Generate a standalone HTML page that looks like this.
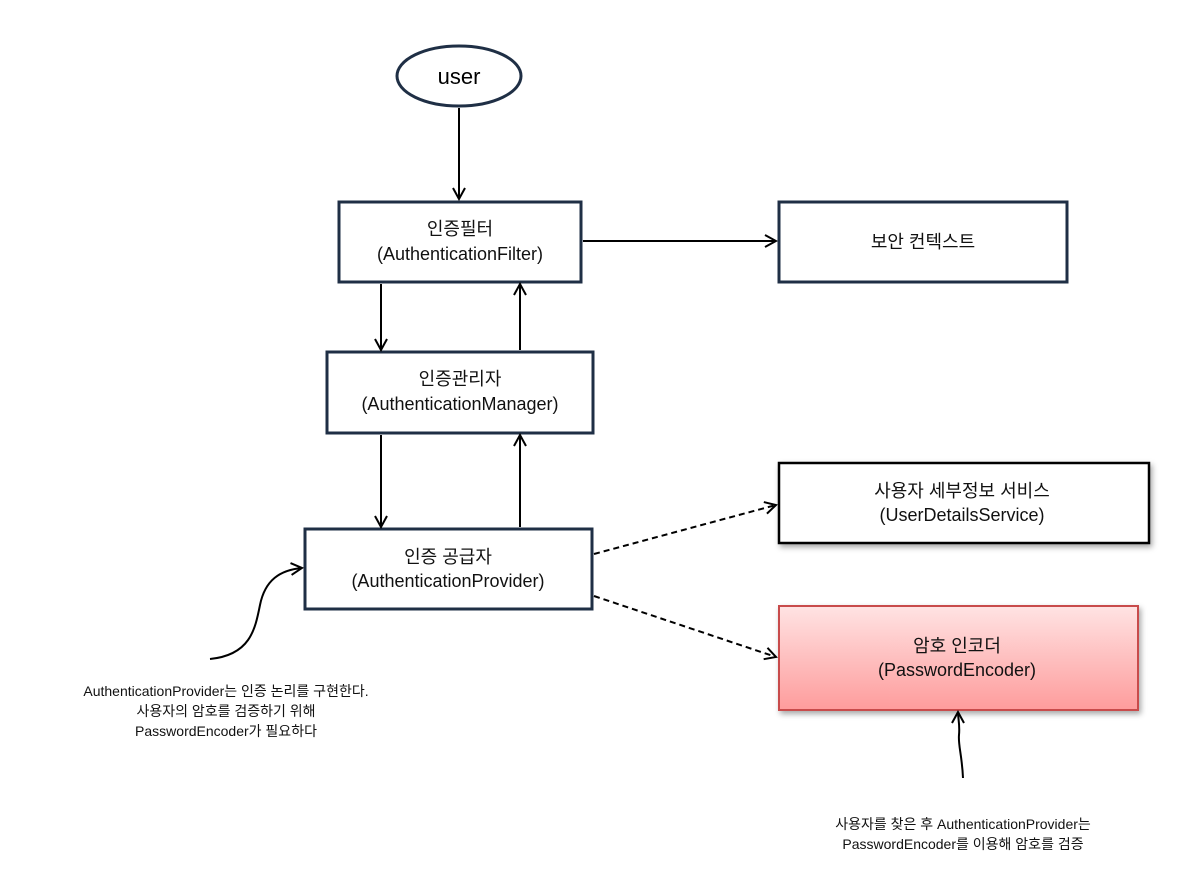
<!DOCTYPE html>
<html><head><meta charset="utf-8"><style>
body{margin:0;background:#fff;width:1195px;height:873px;overflow:hidden;}
svg text{font-family:"Liberation Sans","Noto Sans CJK KR",sans-serif;}
</style></head><body>
<svg width="1195" height="873" viewBox="0 0 1195 873" xmlns="http://www.w3.org/2000/svg">
<defs>
<marker id="a" markerWidth="14" markerHeight="14" refX="12" refY="7" orient="auto" markerUnits="userSpaceOnUse">
<path d="M1,1 L12,7 L1,13" fill="none" stroke="#000" stroke-width="2"/></marker>
<linearGradient id="g" x1="0" y1="0" x2="0" y2="1"><stop offset="0" stop-color="#ffe3e3"/><stop offset="1" stop-color="#fe9c9c"/></linearGradient>
<filter id="s" x="-10%" y="-10%" width="130%" height="140%"><feDropShadow dx="2" dy="3" stdDeviation="3" flood-opacity="0.35"/></filter>
</defs>
<ellipse cx="459" cy="76" rx="62" ry="30" fill="#fff" stroke="#1f2f45" stroke-width="3"/>
<text x="459" y="84" font-size="22" text-anchor="middle">user</text>
<g stroke="#1f2f45" stroke-width="3" fill="#fff">
<rect x="339" y="202" width="242" height="80"/>
<rect x="779" y="202" width="288" height="80"/>
<rect x="327" y="352" width="266" height="81"/>
<rect x="305" y="529" width="287" height="80"/>
</g>
<rect x="779" y="463" width="370" height="80" fill="#fff" stroke="#000" stroke-width="2.5" filter="url(#s)"/>
<rect x="779" y="606" width="359" height="104" fill="url(#g)" stroke="#c84b4b" stroke-width="2" filter="url(#s)"/>
<g font-size="18" text-anchor="middle" fill="#111">
<text x="460" y="235">인증필터</text><text x="460" y="260">(AuthenticationFilter)</text>
<text x="923" y="248">보안 컨텍스트</text>
<text x="460" y="385">인증관리자</text><text x="460" y="410">(AuthenticationManager)</text>
<text x="448" y="563">인증 공급자</text><text x="448" y="587">(AuthenticationProvider)</text>
<text x="962" y="497">사용자 세부정보 서비스</text><text x="962" y="521">(UserDetailsService)</text>
<text x="957" y="652">암호 인코더</text><text x="957" y="676">(PasswordEncoder)</text>
</g>
<g stroke="#000" stroke-width="2" fill="none">
<line x1="459" y1="108" x2="459" y2="199" marker-end="url(#a)"/>
<line x1="583" y1="241" x2="776" y2="241" marker-end="url(#a)"/>
<line x1="381" y1="284" x2="381" y2="350" marker-end="url(#a)"/>
<line x1="520" y1="350" x2="520" y2="284" marker-end="url(#a)"/>
<line x1="381" y1="435" x2="381" y2="527" marker-end="url(#a)"/>
<line x1="520" y1="527" x2="520" y2="435" marker-end="url(#a)"/>
<line x1="594" y1="554" x2="776" y2="505" stroke-dasharray="6,4" marker-end="url(#a)"/>
<line x1="594" y1="596" x2="776" y2="657" stroke-dasharray="6,4" marker-end="url(#a)"/>
<path d="M210,659 C250,655 255,630 260,605 C265,580 280,570 302,568" marker-end="url(#a)"/>
<path d="M963,778 C962,755 958,745 959,735 C960,725 958,718 958,712" marker-end="url(#a)"/>
</g>
<g font-size="14" text-anchor="middle" fill="#111">
<text x="226" y="696">AuthenticationProvider는 인증 논리를 구현한다.</text>
<text x="226" y="716">사용자의 암호를 검증하기 위해</text>
<text x="226" y="736">PasswordEncoder가 필요하다</text>
<text x="963" y="829">사용자를 찾은 후 AuthenticationProvider는</text>
<text x="963" y="849">PasswordEncoder를 이용해 암호를 검증</text>
</g>
</svg>
</body></html>
